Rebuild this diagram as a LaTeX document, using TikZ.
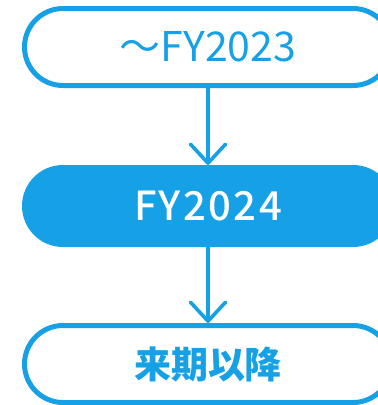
\documentclass[tikz,border=0pt]{standalone}
\usepackage{fontspec}
\usetikzlibrary{arrows.meta,shapes.misc}
\newfontfamily\cjk{Noto Sans CJK JP}
\newfontfamily\cjkmed[LetterSpace=6]{Noto Sans CJK JP Medium}
\definecolor{flowblue}{RGB}{22,161,230}

\begin{document}
\begin{tikzpicture}[x=1pt,y=-1pt,
  stage/.style={rounded rectangle, draw=flowblue, line width=5pt,
    minimum width=367pt, minimum height=77pt, inner sep=0pt},
  flow/.style={-{Straight Barb[length=19pt,width=35pt,round]},
    line width=3.6pt, draw=flowblue}]
\useasboundingbox (0,0) rectangle (378,405);

\node[stage, text=flowblue, font=\cjk\fontsize{41}{44}\selectfont] (upto) at (208,47) {～FY2023};
\node[stage, fill=flowblue, text=white, font=\cjkmed\fontsize{40}{44}\selectfont] (fy) at (208,206) {FY2024};
\node[stage, text=flowblue, font=\cjk\bfseries\fontsize{37}{40}\selectfont] (next) at (208,364) {来期以降};

\draw [flow] (upto) -- (fy);
\draw [flow] (fy) -- (next);

\end{tikzpicture}
\end{document}
